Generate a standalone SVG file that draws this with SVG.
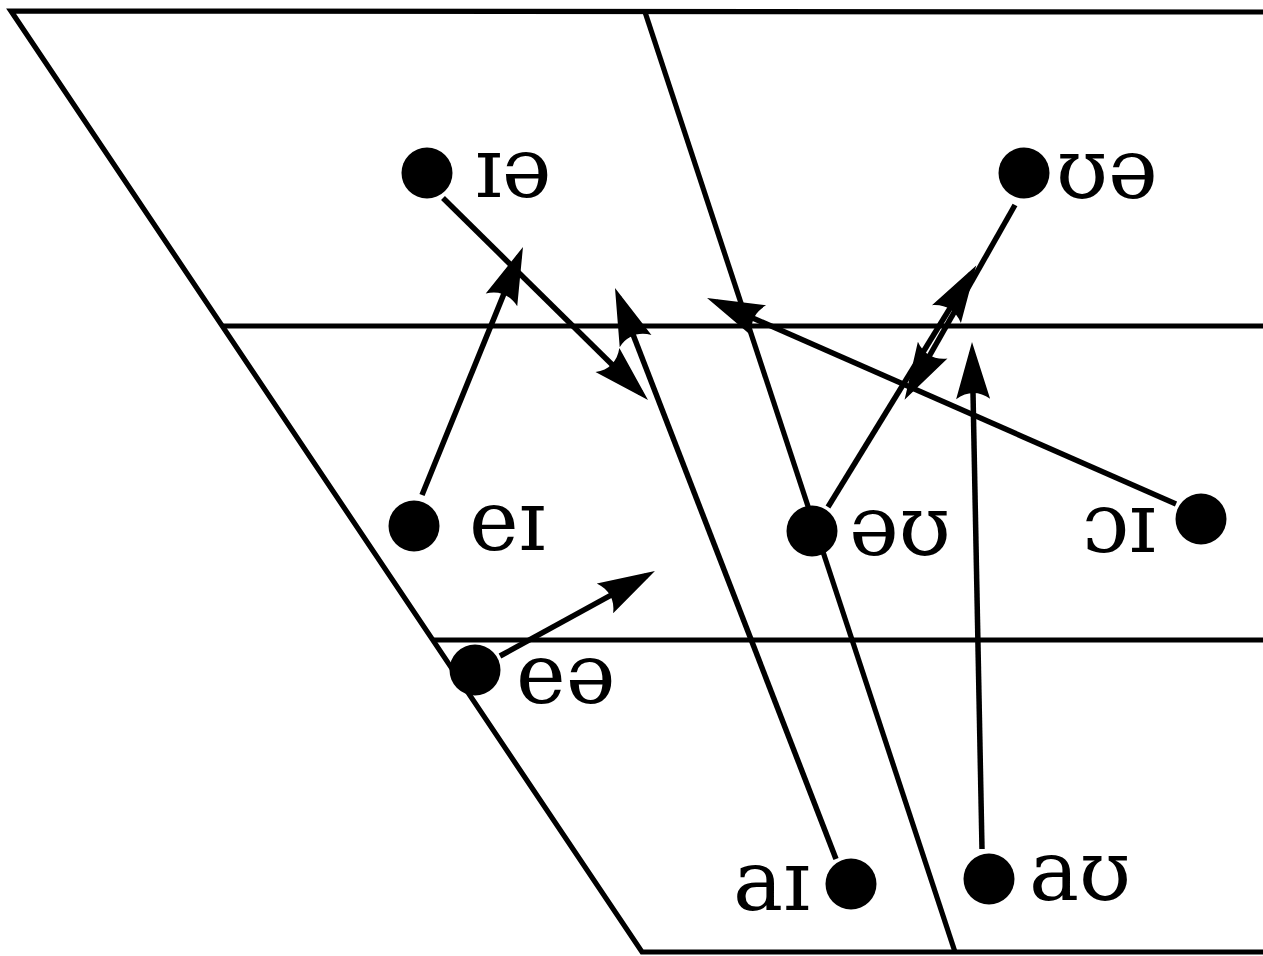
<svg xmlns="http://www.w3.org/2000/svg" width="1263" height="956" viewBox="0 0 1263 956">
<style>
.frame{fill:none;stroke:#000;stroke-width:5.2}
.conn{fill:none;stroke:#000;stroke-width:5.5;marker-end:url(#ah)}
.dot{fill:#000}
.lbl{font-family:"DejaVu Serif",serif;font-size:84px;fill:#000}
</style>
<defs>
<marker id="ah" markerUnits="userSpaceOnUse" orient="auto" refX="0" refY="0" markerWidth="80" markerHeight="40" viewBox="-60 -20 80 40" overflow="visible">
<path d="M10,0 L-47,-17 C-39,-6 -39,6 -47,17 Z" fill="#000"/>
</marker>
</defs>
<rect width="1263" height="956" fill="#fff"/>
<g id="chart">
<path class="frame" d="M1263,12 L11,11 L642,952 L1263,952"/>
<path class="frame" d="M645,12 L955,952"/>
<path class="frame" d="M223,326 L1263,326"/>
<path class="frame" d="M433,640 L1263,640"/>
</g>
<g id="connectors">
<path class="conn" d="M443,198 L640.9,393"/>
<path class="conn" d="M422,495 L519.2,256.3"/>
<path class="conn" d="M500,656 L646.2,575.8"/>
<path class="conn" d="M836,859 L618.6,297.3"/>
<path class="conn" d="M828,507 L971,274"/>
<path class="conn" d="M1015,205 L909.5,391"/>
<path class="conn" d="M1176,504 L716.2,302"/>
<path class="conn" d="M982,849 L972.2,352"/>
</g>
<g id="n-ie"><circle class="dot" cx="427" cy="173" r="25.5"/><text class="lbl" x="475" y="197">ɪə</text></g>
<g id="n-ue"><circle class="dot" cx="1024" cy="173" r="25.5"/><text class="lbl" x="1056" y="198">ʊə</text></g>
<g id="n-ei"><circle class="dot" cx="414" cy="526" r="25.5"/><text class="lbl" x="469" y="550">eɪ</text></g>
<g id="n-eu"><circle class="dot" cx="812" cy="531" r="25.5"/><text class="lbl" x="849" y="555">əʊ</text></g>
<g id="n-oi"><circle class="dot" cx="1201" cy="519" r="25.5"/><text class="lbl" x="1156" y="552" text-anchor="end">ɔɪ</text></g>
<g id="n-ea"><circle class="dot" cx="475" cy="670" r="25.5"/><text class="lbl" x="516" y="703">eə</text></g>
<g id="n-ai"><circle class="dot" cx="851" cy="884" r="25.5"/><text class="lbl" x="810" y="910" text-anchor="end">aɪ</text></g>
<g id="n-au"><circle class="dot" cx="989" cy="879" r="25.5"/><text class="lbl" x="1029" y="900">aʊ</text></g>
</svg>
